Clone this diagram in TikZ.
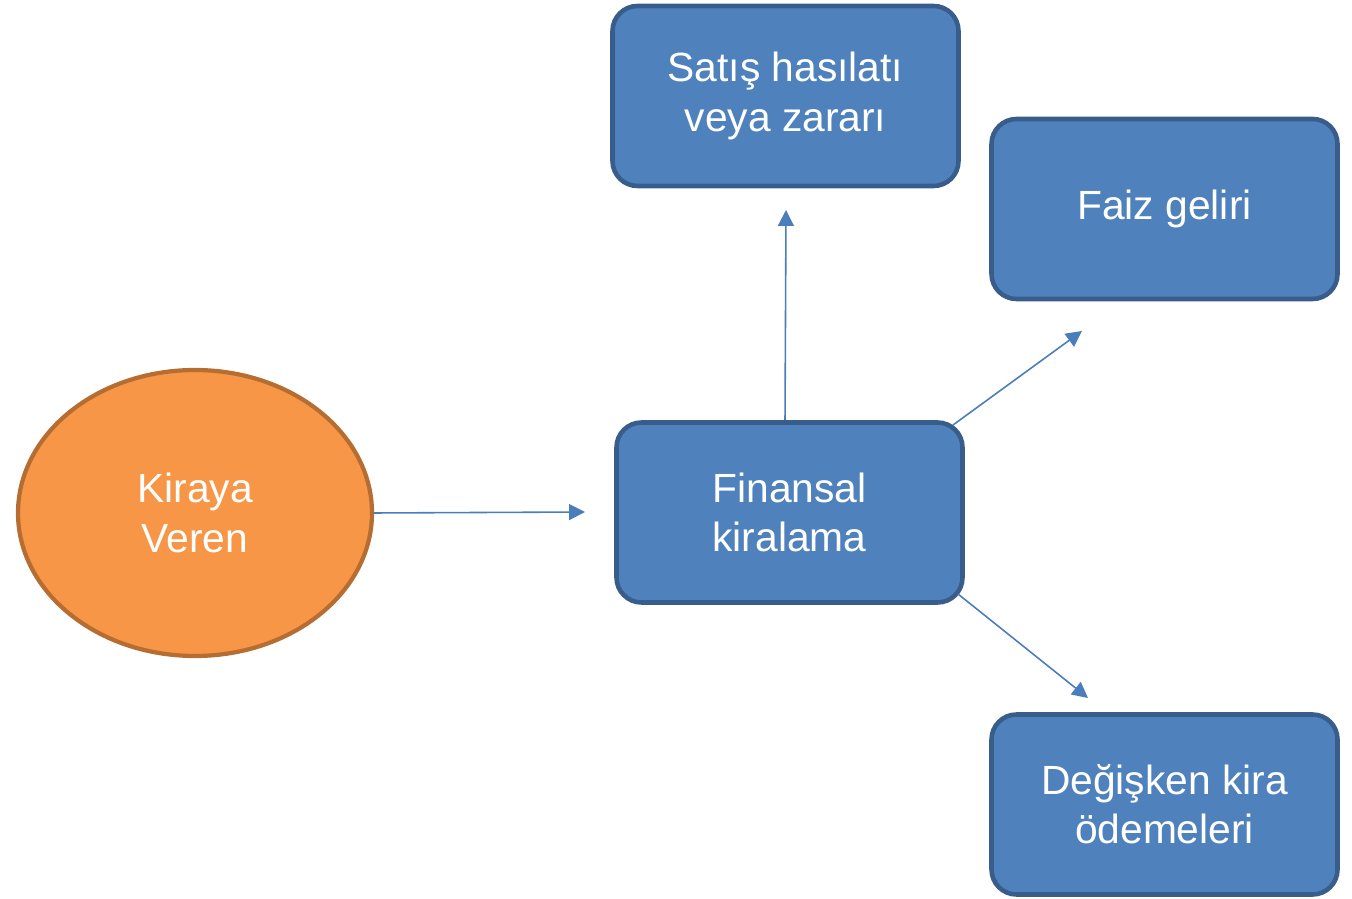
\documentclass[tikz,border=0pt]{standalone}
\usepackage{fontspec}
\setmainfont{Liberation Sans}
\usetikzlibrary{shapes.geometric,arrows.meta}
\definecolor{boxfill}{HTML}{4F81BD}
\definecolor{boxline}{HTML}{385D8A}
\definecolor{ovfill}{HTML}{F79646}
\definecolor{ovline}{HTML}{B66D31}
\definecolor{arr}{HTML}{4A7EBB}
\tikzset{
  bluebox/.style={draw=boxline, fill=boxfill, line width=1.3pt, rounded corners=0.25cm,
    minimum width=3.46cm, minimum height=1.8cm, text=white, align=center,
    font=\fontsize{11.6}{14}\selectfont, inner sep=0pt},
  oval/.style={ellipse, draw=ovline, fill=ovfill, line width=1.2pt,
    minimum width=3.54cm, minimum height=2.86cm, text=white, align=center,
    font=\fontsize{11.6}{14}\selectfont, inner sep=0pt},
  conn/.style={draw=arr, line width=0.45pt, -{Triangle[length=4.5pt,width=4.5pt]}}
}
\begin{document}
\begin{tikzpicture}
\useasboundingbox (0,0) rectangle (13.52,-8.99);
\node[oval] (kv) at (1.95,-5.13) {Kiraya\\Veren};
\node[bluebox] (fk) at (7.895,-5.125) {Finansal\\kiralama};
\node[bluebox] (sh) at (7.855,-0.96) {Satış hasılatı\\veya zararı};
\node[bluebox] (fg) at (11.645,-2.09) {Faiz geliri};
\node[bluebox] (dk) at (11.645,-8.045) {Değişken kira\\ödemeleri};
\coordinate (e1) at (5.85,-5.12);
\coordinate (e2) at (7.86,-2.10);
\coordinate (e3) at (10.82,-3.31);
\coordinate (e4) at (10.88,-6.98);
\draw[conn] (kv.east) -- (e1);
\draw[conn] (fk.north -| 7.85,0) -- (e2);
\draw[conn] (9.53,-4.25) -- (e3);
\draw[conn] (9.58,-5.94) -- (e4);
\end{tikzpicture}
\end{document}
